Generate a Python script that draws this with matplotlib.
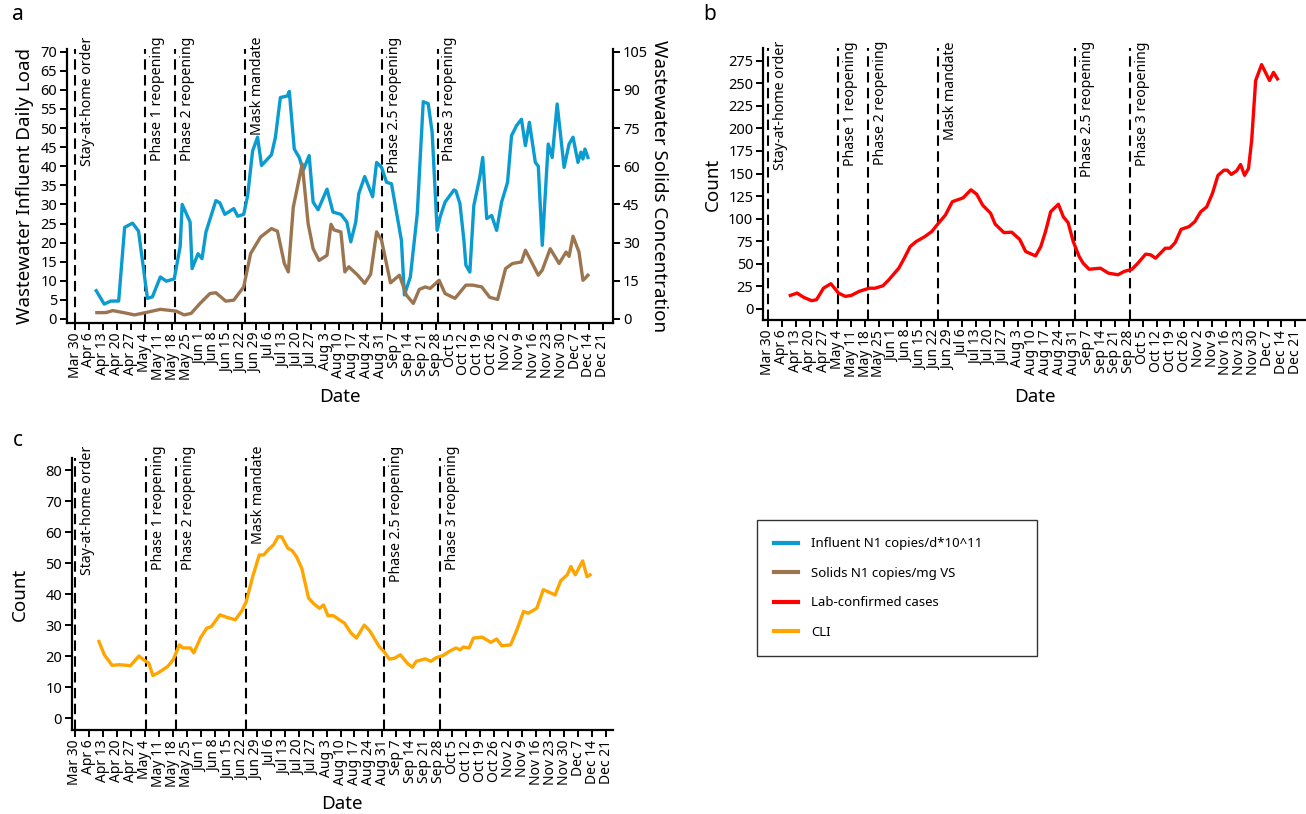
"""Wastewater SARS-CoV-2, lab-confirmed cases and CLI counts with policy events."""

import matplotlib

matplotlib.use("Agg")
import matplotlib.pyplot as plt
from matplotlib.lines import Line2D
import pandas as pd

START = pd.Timestamp("2020-03-30")
TICK_DATES = pd.date_range("2020-03-30", "2020-12-21", freq="7D")

# event lines, days after Mar 30
EVENT_DAYS = [0.0, 35.5, 50.5, 85.6, 154.8, 182.7]
EVENT_LABELS = [
    "Stay-at-home order",
    "Phase 1 reopening",
    "Phase 2 reopening",
    "Mask mandate",
    "Phase 2.5 reopening",
    "Phase 3 reopening",
]

# panel a, influent N1 copies/d*10^11 (left axis)
INFLUENT_DAYS = [
    10.7, 14.7, 18, 22, 25, 29, 32, 36.5, 39, 43, 46, 50, 53, 54, 58, 59, 62, 64,
    66, 71, 73, 75.5, 80, 82, 85, 87, 89.5, 92, 94, 99, 101, 103.5, 107, 108,
    110.5, 113, 115, 118, 120, 122.5, 127, 130, 134, 137, 139, 141.5, 143, 146,
    150, 152, 154.5, 157, 159.5, 162, 164.5, 166, 169, 172.5, 175.5, 178, 180,
    182.5, 184, 186.5, 191, 192, 194, 196, 197, 199, 201, 204, 205.5, 207.5, 210,
    212.5, 215, 218, 220, 222.5, 225, 227, 229, 232, 233.5, 235.5, 238.5, 240.5,
    243, 246.5, 249, 251, 253.5, 255, 256, 257, 258.5,
]
INFLUENT = [
    7.4, 3.9, 4.7, 4.7, 24, 25.1, 23, 5.4, 5.8, 11, 9.9, 10.5, 19, 30, 25.4, 13.2,
    17.1, 15.8, 22.8, 31, 30.4, 27.4, 28.9, 26.9, 27.4, 32.3, 44, 47.6, 40.2, 43,
    47.6, 58, 58.4, 59.6, 44.5, 42.3, 38.9, 42.8, 30.6, 28.6, 34, 28, 27.4, 25.4,
    20.2, 25.4, 32.8, 37.3, 32, 41, 39.7, 35.8, 35.4, 28, 20.6, 6.3, 11, 27.6,
    56.9, 56.4, 48.9, 23.2, 26.7, 30.6, 33.8, 33.5, 30.2, 20.6, 14.1, 12.3, 29.7,
    37.1, 42.3, 26.3, 27.1, 23.2, 30.6, 35.8, 48, 50.6, 52.3, 45.4, 51.5, 41, 40,
    19.3, 45.8, 42.3, 56.3, 39.7, 45.8, 47.6, 41, 43.7, 41.9, 44.5, 42.3,
]

# panel a, solids N1 copies/mg VS (right axis)
SOLIDS_DAYS = [
    11, 15.5, 19, 24.5, 30, 35.5, 43, 51, 55, 58.5, 63, 68, 71, 76, 80, 85, 88.5,
    93.5, 99, 102, 105.5, 107.5, 110, 114.5, 117.5, 120, 123, 127, 129, 130.5,
    134, 136, 138, 142.5, 146, 149, 152, 154.5, 159, 163.5, 167, 170.5, 173.5,
    176.5, 179, 183.5, 186.5, 191.5, 197, 200.5, 205, 209, 213, 217, 220.5, 225,
    227, 230.5, 233.5, 235.5, 239.5, 244, 247.5, 249, 251, 254, 256, 257, 258.5,
]
SOLIDS = [
    2.5, 2.5, 3.3, 2.5, 1.6, 2.5, 3.8, 3.1, 1.6, 2.2, 6.1, 10, 10.3, 7, 7.4, 12.6,
    25.7, 32.2, 35.5, 34.5, 21.8, 18.5, 43.9, 60.9, 37.4, 27.6, 23, 25, 37.2, 35,
    34.2, 18.5, 20.5, 17.2, 14, 17.6, 34.2, 30.9, 14.2, 17.2, 9.4, 6.1, 11.6,
    12.6, 12, 15.2, 10, 8.1, 13.3, 13.3, 12.6, 8.5, 7.7, 19.8, 21.8, 22.4, 27,
    21.8, 17.2, 19.2, 27.6, 21.8, 26.3, 24.6, 32.5, 26.3, 15.2, 15.9, 17.2,
]

# panel b, lab-confirmed cases
CASES_DAYS = [
    11.3, 14.7, 18, 22, 24.5, 28, 31.7, 35.6, 39, 42, 46, 51, 54, 58, 61, 66,
    68.7, 71.7, 74.7, 79, 82.6, 86, 89.5, 93, 98.4, 102.4, 105.3, 108.3, 112.3,
    114.6, 119, 123, 127, 130, 135, 137.6, 140, 142.6, 146.5, 149, 151.4, 154,
    157, 159, 162, 167.7, 171.7, 176.6, 179.6, 183.6, 186.6, 190.5, 193, 195.5,
    200.4, 202.8, 205.4, 208.4, 212.4, 215.3, 218.3, 221.3, 224.2, 227, 230,
    231.7, 233.7, 236.4, 238.4, 240.4, 242.4, 244, 246, 249, 253, 255, 257,
]
CASES = [
    15, 17.6, 12.9, 9.2, 10.3, 23, 28, 17.6, 14, 15, 19.5, 23, 23, 25.7, 32.4,
    45.2, 56, 69, 74.6, 80, 85.7, 95, 104, 118.8, 123, 132, 127, 115, 106, 94,
    84.6, 85, 77, 63.6, 58.8, 69, 85.7, 107.7, 116, 102, 95.6, 74.6, 58, 50.7, 44,
    45.2, 39.7, 37.9, 41.5, 44, 50.7, 60.7, 60, 56.2, 67.3, 67.3, 73.5, 88.2,
    91.2, 96.7, 107.7, 113, 128, 148, 153.7, 153.7, 149, 153, 160, 148, 155.5,
    186.8, 253, 270.6, 253, 262, 254.8,
]

# panel c, CLI counts
CLI_DAYS = [
    12, 14.7, 18.6, 22.3, 27.8, 32, 35.4, 37, 39, 42, 46.4, 49.2, 52.3, 54, 57.8,
    59.5, 62.8, 66, 68.3, 72.6, 76, 80.3, 83.6, 85.8, 89, 92.3, 94.5, 96.7, 99.5,
    101.7, 103.5, 106.6, 108.8, 111, 113.6, 117, 119.7, 122.5, 124.5, 126.7,
    129.5, 132.4, 135, 138.3, 141, 144.9, 147.7, 152.5, 154.7, 157.5, 160, 163,
    166.7, 169, 171, 175.5, 178.3, 181, 184.2, 187.5, 190.8, 193, 194.5, 197.4,
    199.6, 204, 208.3, 211.2, 213.8, 218.2, 221.4, 224.7, 227, 231.3, 234.6,
    236.8, 240.5, 243.3, 246.6, 248.4, 250.6, 254.3, 256.5, 258,
]
CLI = [
    24.7, 20.4, 17, 17.2, 16.9, 20, 18.3, 17.7, 13.7, 14.7, 16.6, 18.8, 23.6,
    22.6, 22.6, 21, 25.8, 29, 29.5, 33.3, 32.5, 31.7, 34.6, 37.6, 45.6, 52.6,
    52.6, 54.2, 55.9, 58.5, 58.5, 54.8, 54, 52, 48.3, 38.7, 36.8, 35.4, 36.5, 33,
    33, 31.7, 30.6, 27.4, 25.8, 30, 28.1, 22.9, 21.5, 19, 19.3, 20.4, 17.5, 16.4,
    18.3, 19.1, 18.3, 19.5, 20.1, 21.5, 22.6, 22, 22.9, 22.6, 25.8, 26.1, 24.4,
    25.5, 23.3, 23.6, 28.5, 34.4, 33.8, 35.4, 41.4, 40.8, 39.7, 44.3, 46.2, 48.9,
    46.2, 50.7, 45.6, 46.2,
]

BLUE = "#0a9bd0"
BROWN = "#9a7550"
RED = "#ff0000"
ORANGE = "#ffa500"

W, H = 1306, 814
FONT = "Noto Sans"


def to_dates(days):
    return START + pd.to_timedelta(days, unit="D")


def px_axes(fig, left, right, top, bottom):
    return fig.add_axes([left / W, 1 - bottom / H, (right - left) / W, (bottom - top) / H])


def style_axes(ax, x0, x1, text_dy):
    ax.set_xlim(to_dates(x0), to_dates(x1))
    ax.set_xticks(TICK_DATES)
    ax.set_xticklabels([f"{d:%b} {d.day}" for d in TICK_DATES], rotation=90, fontsize=10)
    ax.tick_params(axis="both", direction="out", length=5, width=1.4, pad=2)
    ax.tick_params(axis="y", labelsize=10.5)
    for side in ["top", "right"]:
        ax.spines[side].set_visible(False)
    for side in ["left", "bottom"]:
        ax.spines[side].set_linewidth(1.6)
    for day, label in zip(EVENT_DAYS, EVENT_LABELS):
        d = to_dates(day)
        ax.axvline(d, color="black", linewidth=1.5, dashes=(5, 2.6), zorder=1)
        ax.annotate(
            label,
            xy=(d, 1.0),
            xycoords=("data", "axes fraction"),
            xytext=(3.5, text_dy),
            textcoords="offset points",
            rotation=90,
            ha="left",
            va="top",
            fontsize=10.2,
            annotation_clip=False,
        )


plt.rcParams["font.family"] = [FONT, "DejaVu Sans"]
fig = plt.figure(figsize=(W / 100, H / 100), dpi=100)

# panel a
ax_a = px_axes(fig, 66.7, 613.3, 49, 323)
style_axes(ax_a, -4.2, 271.3, 9)
ax_a.plot(to_dates(INFLUENT_DAYS), INFLUENT, color=BLUE, linewidth=2.4, zorder=3)
ax_a.set_ylim(-1.05, 70.7)
ax_a.set_yticks(range(0, 71, 5))
ax_a.set_ylabel("Wastewater Influent Daily Load", fontsize=13.5)
ax_a.yaxis.set_label_coords(-0.06, 0.5)
ax_a.set_xlabel("Date", fontsize=13.5)
ax_a.xaxis.set_label_coords(0.5, -0.237)

ax_a2 = ax_a.twinx()
ax_a2.plot(to_dates(SOLIDS_DAYS), SOLIDS, color=BROWN, linewidth=2.4, zorder=3)
ax_a2.set_ylim(-1.05 * 1.5, 70.7 * 1.5)
ax_a2.set_yticks(range(0, 106, 15))
ax_a2.tick_params(axis="y", direction="out", length=5, width=1.4, labelsize=10.5, pad=2)
for side in ["top", "left", "bottom"]:
    ax_a2.spines[side].set_visible(False)
ax_a2.spines["right"].set_linewidth(1.6)
ax_a2.set_ylabel("Wastewater Solids Concentration", fontsize=13.5, rotation=270, va="bottom")
ax_a2.yaxis.set_label_coords(1.068, 0.5)

# panel b
ax_b = px_axes(fig, 763, 1306, 48, 320)
style_axes(ax_b, -2.5, 271.4, 5)
ax_b.plot(to_dates(CASES_DAYS), CASES, color=RED, linewidth=2.4, zorder=3)
ax_b.set_ylim(-12.2, 289)
ax_b.set_yticks(range(0, 276, 25))
ax_b.set_ylabel("Count", fontsize=13.5)
ax_b.yaxis.set_label_coords(-0.0755, 0.5)
ax_b.set_xlabel("Date", fontsize=13.5)
ax_b.xaxis.set_label_coords(0.5, -0.25)

# panel c
ax_c = px_axes(fig, 71.7, 613, 458, 730)
style_axes(ax_c, -1.65, 269.5, 9)
ax_c.plot(to_dates(CLI_DAYS), CLI, color=ORANGE, linewidth=2.4, zorder=3)
ax_c.set_ylim(-3.87, 83.9)
ax_c.set_yticks(range(0, 81, 10))
ax_c.set_ylabel("Count", fontsize=13.5)
ax_c.yaxis.set_label_coords(-0.079, 0.5)
ax_c.set_xlabel("Date", fontsize=13.5)
ax_c.xaxis.set_label_coords(0.5, -0.239)

for x, y, letter in [(18, 15, "a"), (710, 15, "b"), (18, 440, "c")]:
    fig.text(x / W, 1 - y / H, letter, fontsize=15, ha="center", va="center")

handles = [
    Line2D([], [], color=BLUE, linewidth=3),
    Line2D([], [], color=BROWN, linewidth=3),
    Line2D([], [], color=RED, linewidth=3),
    Line2D([], [], color=ORANGE, linewidth=3),
]
labels = [
    "Influent N1 copies/d*10^11",
    "Solids N1 copies/mg VS",
    "Lab-confirmed cases",
    "CLI",
]
leg = fig.legend(
    handles,
    labels,
    loc="upper left",
    bbox_to_anchor=(757 / W, 1 - 655 / H, 280 / W, 135 / H),
    mode="expand",
    fontsize=9.5,
    frameon=True,
    fancybox=False,
    edgecolor="black",
    borderpad=1.3,
    labelspacing=1.25,
    handlelength=1.8,
    handletextpad=1.0,
    borderaxespad=0,
)
leg.get_frame().set_linewidth(1.0)

fig.savefig("out.png", dpi=100)
